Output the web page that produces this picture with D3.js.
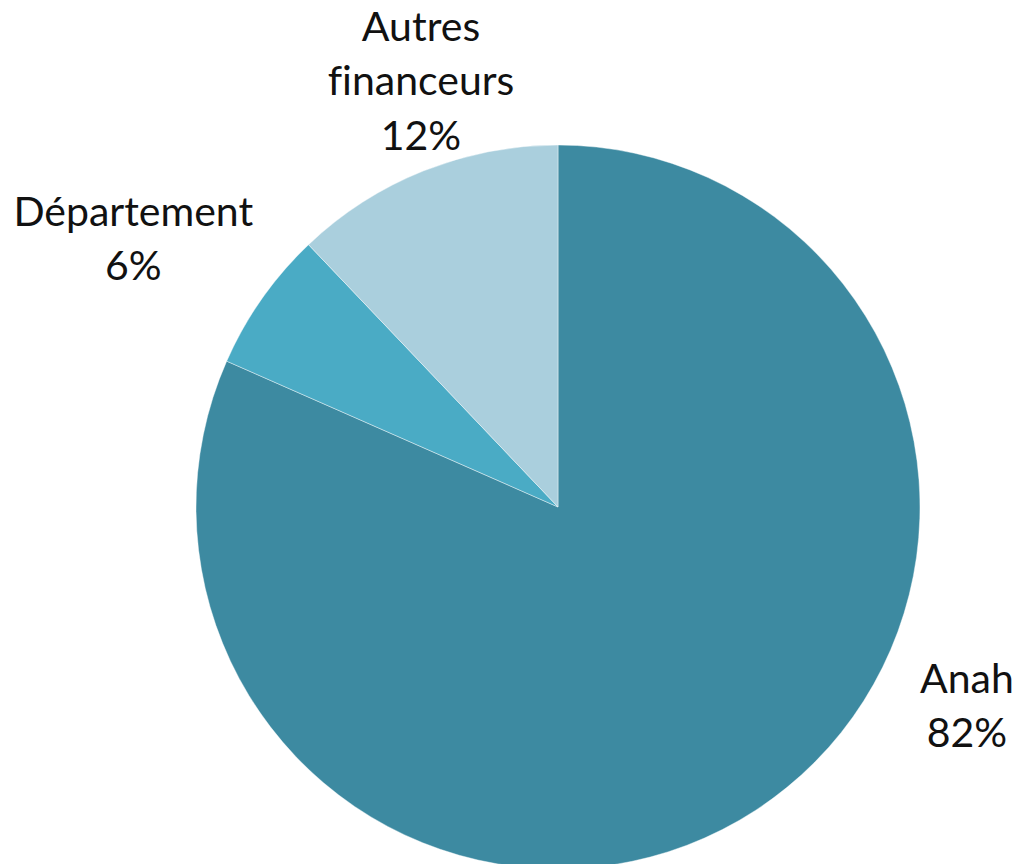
<!DOCTYPE html>
<html>
<head>
<meta charset="utf-8">
<script src="https://cdn.jsdelivr.net/npm/d3@7"></script>
<style>
  html, body { margin: 0; padding: 0; background: #fff; }
  svg { display: block; }
  .lbl { font-family: Lato, "Open Sans", sans-serif; font-size: 41px; fill: #111;
         font-variant-ligatures: none; font-feature-settings: "liga" 0; }
</style>
</head>
<body>
<div id="container"></div>
<script>
const categories = ["Anah", "Département", "Autres financeurs"];
const shares = [81.6, 6.3, 12.1];
const labelLines = [["Anah"], ["Département"], ["Autres", "financeurs"]];
const colors = ["#3D8AA1", "#4AABC5", "#AACFDD"];

// label placement: polar position around the pie centre (degrees from top, radius in px)
const labelPolar = [
    { angle: 117.5, r: 461 },
    { angle: 300.9, r: 495 },
    { angle: 341.6, r: 434 }
];

const width = 1021, height = 864;
const cx = 558, cy = 507, radius = 362;
const lineHeight = 54.5;

const svg = d3.select("#container").append("svg")
    .attr("width", width)
    .attr("height", height);

const g = svg.append("g")
    .attr("transform", `translate(${cx},${cy})`);

const data = categories.map((c, i) => ({ name: c, value: shares[i], idx: i }));

const pie = d3.pie()
    .sort(null)
    .value(d => d.value);

const arc = d3.arc()
    .innerRadius(0)
    .outerRadius(radius);

const arcs = pie(data);

g.selectAll("path.slice")
    .data(arcs)
    .enter().append("path")
    .attr("class", "slice")
    .attr("d", arc)
    .attr("fill", d => colors[d.data.idx])
    .attr("stroke", "#ffffff")
    .attr("stroke-opacity", 0.6)
    .attr("stroke-width", 0.7);

const labels = g.selectAll("text.lbl")
    .data(arcs)
    .enter().append("text")
    .attr("class", "lbl")
    .attr("text-anchor", "middle")
    .attr("transform", d => {
        const p = labelPolar[d.data.idx];
        const a = p.angle * Math.PI / 180;
        return `translate(${p.r * Math.sin(a)},${-p.r * Math.cos(a)})`;
    });

labels.each(function(d) {
    const lines = labelLines[d.data.idx].concat([Math.round(d.data.value) + "%"]);
    const t = d3.select(this);
    const offset = -(lines.length - 1) * lineHeight / 2;
    lines.forEach((ln, k) => {
        t.append("tspan")
            .attr("x", 0)
            .attr("y", offset + k * lineHeight)
            .text(ln);
    });
});
</script>
</body>
</html>
